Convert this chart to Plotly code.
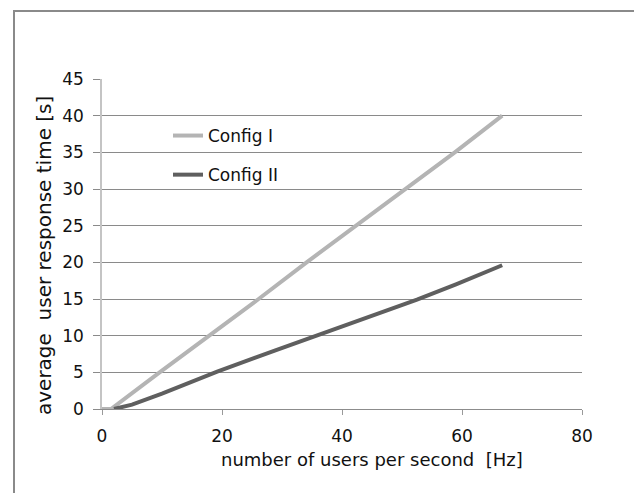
import plotly.graph_objects as go

# Data
config1_x = [0, 1.5, 9.6, 17.9, 26.1, 34.1, 42.4, 50.6, 58.8, 66.7]
config1_y = [0, 0, 5.0, 10.0, 15.0, 20.0, 25.0, 30.0, 35.0, 40.0]

config2_x = [2.0, 5.0, 10.0, 19.2, 28.9, 38.6, 45.0, 52.5, 59.0, 66.7]
config2_y = [0, 0.6, 2.1, 5.1, 8.0, 10.8, 12.6, 14.9, 17.0, 19.6]

series_names = ["Config I", "Config II"]
x_ticks = [0, 20, 40, 60, 80]
y_ticks = [0, 5, 10, 15, 20, 25, 30, 35, 40, 45]
x_title = "number of users per second\u00a0\u00a0[Hz]"
y_title = "average\u00a0\u00a0user response time [s]"

FONT = "'DejaVu Sans', Verdana, sans-serif"

fig = go.Figure()
fig.add_trace(go.Scatter(x=config1_x, y=config1_y, mode="lines", name=series_names[0],
                         line=dict(color="#b4b4b4", width=4), legendgroup="a"))
fig.add_trace(go.Scatter(x=config2_x, y=config2_y, mode="lines", name=series_names[1],
                         line=dict(color="#5f5f5f", width=4), legendgroup="b"))

OFF = 8  # page body margin
W, H = 642, 493
# desired page-pixel positions of plot area
PL, PR, PT, PB = 102, 582, 79, 409
L = PL - OFF
T = PT - OFF
pw, ph = PR - PL, PB - PT
R = W - L - pw
B = H - T - ph

def px(xp):
    return (xp - PL) / pw

def py(yp):
    return (PB - yp) / ph

fig.update_layout(
    width=W, height=H,
    margin=dict(l=L, r=R, t=T, b=B),
    paper_bgcolor="white", plot_bgcolor="white",
    font=dict(family=FONT, size=17, color="#111"),
    showlegend=True,
    legend=dict(x=px(168), y=py(118), xanchor="left", yanchor="top",
                bgcolor="rgba(0,0,0,0)", font=dict(size=17, color="#111", family=FONT),
                tracegroupgap=14, itemwidth=30),
    xaxis=dict(range=[0, 80], tickvals=x_ticks, showgrid=False, zeroline=False,
               showline=True, linecolor="#8c8c8c", linewidth=1,
               ticks="outside", ticklen=5, tickcolor="#9a9a9a", ticklabelstandoff=7,
               tickfont=dict(size=17, family=FONT)),
    yaxis=dict(range=[0, 45], tickvals=y_ticks, showgrid=True, gridcolor="#8a8a8a", gridwidth=1,
               zeroline=False, showline=True, linecolor="#c4c4c4", linewidth=1.5,
               ticks="outside", ticklen=7, tickcolor="#8a8a8a", ticklabelstandoff=6,
               tickfont=dict(size=17, family=FONT)),
    shapes=[dict(type="rect", xref="paper", yref="paper",
                 x0=px(14), x1=px(635), y0=py(520), y1=py(11),
                 line=dict(color="#8a8a8a", width=2), fillcolor="rgba(0,0,0,0)")],
    annotations=[
        dict(text=y_title, xref="paper", yref="paper",
             x=px(44), y=py(256), xanchor="center", yanchor="middle",
             textangle=-90, showarrow=False, font=dict(size=20, family=FONT, color="#111")),
        dict(text=x_title, xref="paper", yref="paper",
             x=px(372), y=py(459), xanchor="center", yanchor="middle",
             showarrow=False, font=dict(size=18, family=FONT, color="#111")),
    ],
)

fig.write_html("out.html")
